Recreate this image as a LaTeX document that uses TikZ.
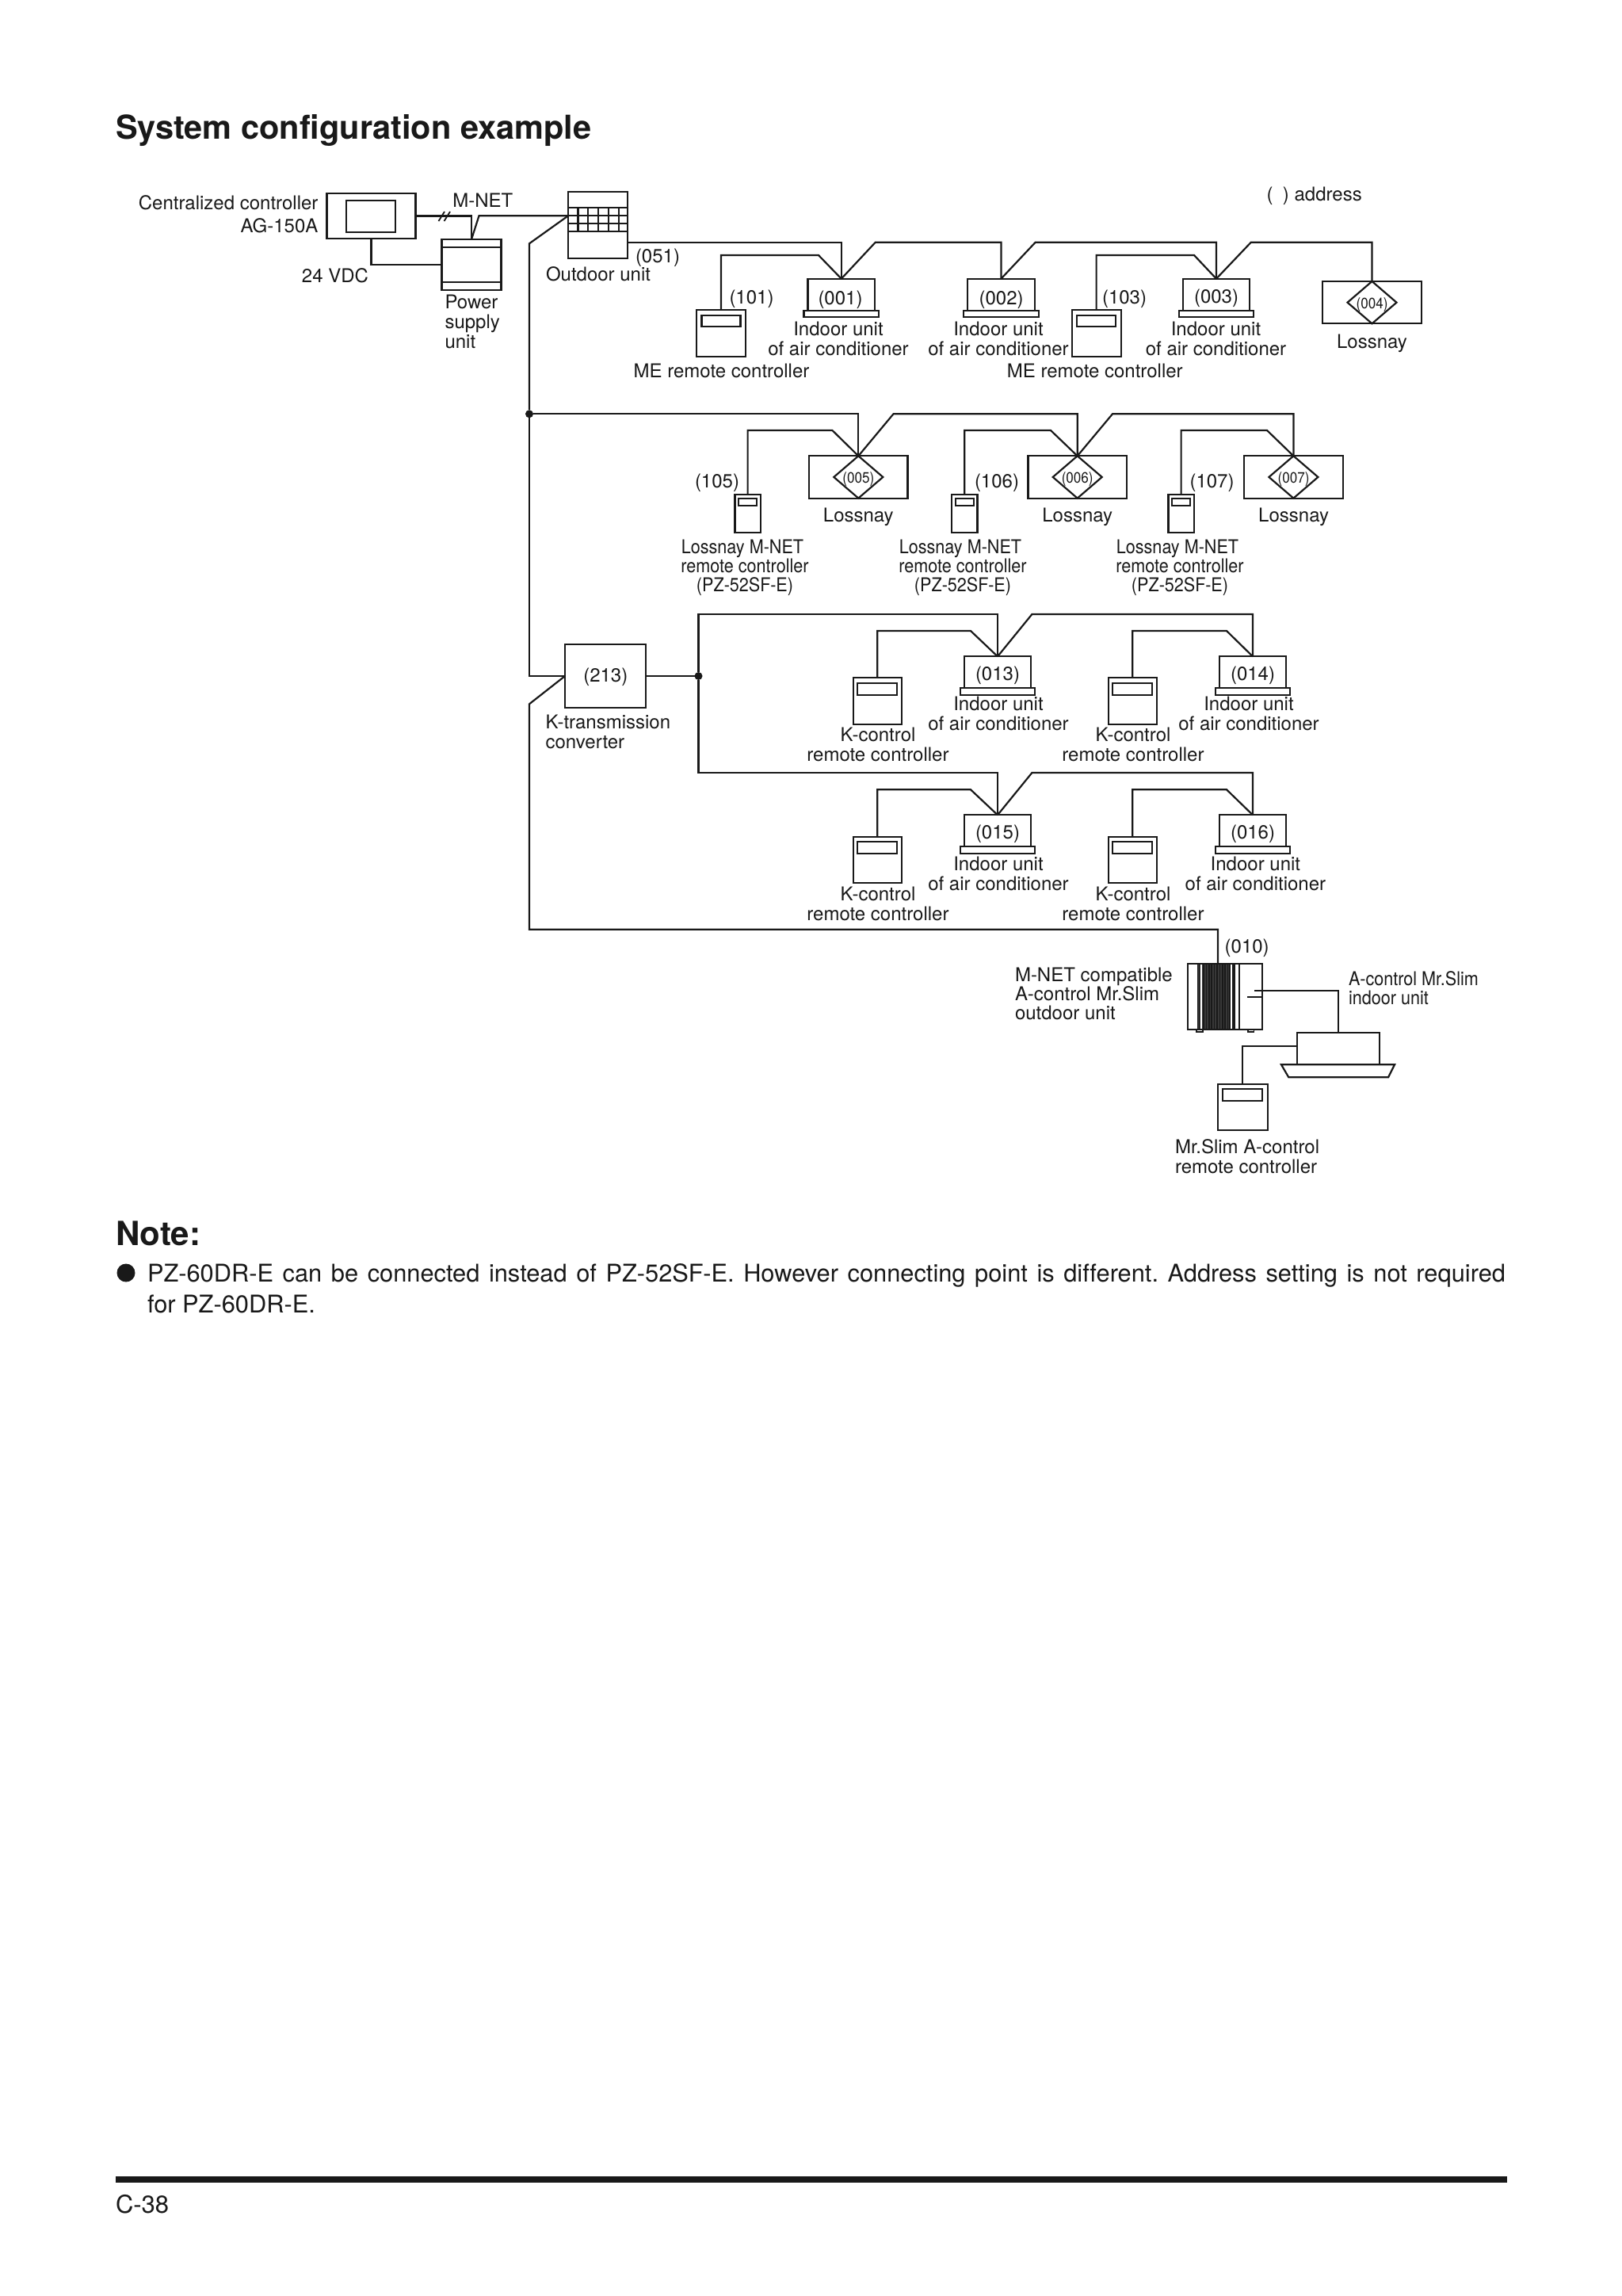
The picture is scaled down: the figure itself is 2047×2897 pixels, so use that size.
\documentclass[tikz,border=0pt]{standalone}
\usepackage{fontspec}
\setmainfont[Ligatures=NoCommon]{TeX Gyre Heros}
\newfontfamily\condfont[FakeStretch=0.90]{TeX Gyre Heros}
\newcommand{\fsA}{\fontsize{24}{25}\selectfont}
\newcommand{\fsB}{\fontsize{24}{24}\selectfont}
\newcommand{\cnA}{\condfont\fontsize{24}{24}\selectfont}
\newcommand{\cnS}{\condfont\fontsize{19}{20}\selectfont}
\definecolor{ink}{gray}{0.1}
\tikzset{
  ln/.style={line width=2.2pt,draw=ink,line join=miter},
  bx/.style={draw=ink,line width=2.2pt,rectangle,inner sep=0pt,outer sep=0pt},
  lbl/.style={inner sep=0pt,outer sep=0pt,text=ink,font=\fsA,anchor=north,align=center,yshift=11.5pt,
     execute at begin node={\rule{0pt}{20pt}}},
  lft/.style={anchor=north west,align=left},
  rgt/.style={anchor=north east,align=right},
  small/.style={font=\cnS,yshift=1.7pt},
  cond/.style={font=\cnA},
  head/.style={inner sep=0pt,outer sep=0pt,text=ink,anchor=base west,font=\bfseries\fontsize{41.5}{41.5}\selectfont},
  body/.style={inner sep=0pt,outer sep=0pt,text=ink,anchor=base west,font=\fontsize{30.8}{31}\selectfont},
  jdot/.style={circle,fill=ink,inner sep=0pt,minimum size=10pt,outer sep=0pt},
}
\newcommand{\txt}[5][]{\node[lbl,#1] (#2) at (#3,#4) {#5};}
% name, centre x, top y
\newcommand{\indoorunit}[3]{%
  \node[bx,minimum width=84.5pt,minimum height=40pt] (#1) at (#2,#3+20) {};
  \node[bx,minimum width=94.5pt,minimum height=8.3pt] (#1b) at (#2,#3+44.2) {};}
\newcommand{\lossnay}[3]{%
  \node[bx,minimum width=124.5pt,minimum height=53.3pt] (#1) at (#2,#3+26.65) {};
  \draw[ln] (#1.north) -- ++(31,26.65) -- (#1.south) -- ++(-31,-26.65) -- cycle;}
% name, centre x, top y, w, h, display w, display offset, display h
\newcommand{\remote}[8]{%
  \node[bx,minimum width=#4pt,minimum height=#5pt] (#1) at (#2,#3+#5/2) {};
  \node[bx,minimum width=#6pt,minimum height=#8pt] (#1d) at (#2,#3+#7+#8/2) {};}
\begin{document}
\begin{tikzpicture}[x=1pt,y=-1pt]
\useasboundingbox (0,0) rectangle (2047,2897);
\fill[white] (0,0) rectangle (2047,2897);

\node[head] (title) at (146,175.5) {System configuration example};

% ---- top left devices
\node[bx,minimum width=112pt,minimum height=57pt] (cc) at (468.5,272.5) {};
\node[bx,minimum width=62pt,minimum height=40pt] (ccs) at (468,272.7) {};
\node[bx,minimum width=75pt,minimum height=63.7pt] (psu) at (595,333.9) {};
\draw[ln] (557.5,312.3) -- (632.5,312.3) (557.5,355.7) -- (632.5,355.7);
\node[bx,minimum width=75pt,minimum height=83.7pt] (odu) at (754.5,283.9) {};
\draw[ln] (717,262) -- (792,262) (717,272.3) -- (792,272.3) (717,281.7) -- (792,281.7) (717,291.7) -- (792,291.7);
\foreach \gx in {729.5,742,755,768,780.6} \draw[ln] (\gx,262) -- (\gx,291.7);
\coordinate (oduM) at (717,272.3);
\coordinate (oduE) at (792,305.7);

\draw[ln] (cc.east) -| (psu.north);
\draw[ln] (psu.north) -- (604.5,272.3) -- (oduM);
\draw[ln] (cc.south) |- (psu.west);
\draw[line width=1.8pt,draw=ink] (553.5,279) -- (561,267) (560.5,279) -- (568,267);

% ---- bus
\node[jdot] (dotA) at (668,522.3) {};
\node[bx,minimum width=102pt,minimum height=79.4pt] (ktc) at (764,853) {};
\node[jdot] (dotB) at (881.5,853) {};
\coordinate (aslT) at (1537,1216);
\draw[ln] (oduM) -- (668,307.3) -- (dotA);
\draw[ln] (dotA) -- (668,853) -- (ktc.west);
\draw[ln] (ktc.west) -- (668,888.3) -- (668,1172.7) -| (aslT);
\draw[ln] (ktc.east) -- (dotB);

% ---- row 1
\indoorunit{uA}{1061.8}{351.7}
\indoorunit{uB}{1263.4}{351.7}
\indoorunit{uC}{1535}{351.7}
\lossnay{lA}{1731.5}{355}
\remote{rA}{910}{391}{62}{58.7}{49}{7}{14}
\remote{rC}{1383.6}{391}{62}{58.7}{49}{7}{14}
\draw[ln] (oduE) -| (uA.north);
\draw[ln] (uA.north) -- (1104.8,305.7) -| (uB.north);
\draw[ln] (uB.north) -- (1306.7,305.7) -| (uC.north);
\draw[ln] (uC.north) -- (1578.8,305.7) -| (lA.north);
\draw[ln] (rA.north) |- (1033,322) -- (uA.north);
\draw[ln] (rC.north) |- (1507,322) -- (uC.north);

% ---- row 2
\lossnay{lB}{1083.3}{575.3}
\lossnay{lC}{1359.7}{575.3}
\lossnay{lD}{1632.4}{575.3}
\remote{rE}{943.6}{624}{32.4}{48.3}{23}{4.7}{9.6}
\remote{rF}{1217.2}{624}{32.4}{48.3}{23}{4.7}{9.6}
\remote{rG}{1490.6}{624}{32.4}{48.3}{23}{4.7}{9.6}
\draw[ln] (dotA) -| (lB.north);
\draw[ln] (lB.north) -- (1127.5,522.3) -| (lC.north);
\draw[ln] (lC.north) -- (1404,522.3) -| (lD.north);
\draw[ln] (rE.north) |- (1050.4,543) -- (lB.north);
\draw[ln] (rF.north) |- (1326,543) -- (lC.north);
\draw[ln] (rG.north) |- (1599,543) -- (lD.north);

% ---- row 3
\indoorunit{uD}{1259}{828.3}
\indoorunit{uE}{1581}{828.3}
\remote{rH}{1107.2}{855}{61}{59.3}{50}{7}{15}
\remote{rI}{1429.2}{855}{61}{59.3}{50}{7}{15}
\draw[ln] (dotB) |- (1259,775) -- (uD.north);
\draw[ln] (uD.north) -- (1302.4,775) -| (uE.north);
\draw[ln] (rH.north) |- (1225,796) -- (uD.north);
\draw[ln] (rI.north) |- (1548,796) -- (uE.north);

% ---- row 4
\indoorunit{uF}{1259}{1028.3}
\indoorunit{uG}{1581}{1028.3}
\remote{rJ}{1107.2}{1055.7}{61}{58.6}{50}{6.6}{15}
\remote{rK}{1429.2}{1055.7}{61}{58.6}{50}{6.6}{15}
\draw[ln] (dotB) |- (1259,975) -- (uF.north);
\draw[ln] (uF.north) -- (1302.4,975) -| (uG.north);
\draw[ln] (rJ.north) |- (1225,996.3) -- (uF.north);
\draw[ln] (rK.north) |- (1548,996.3) -- (uG.north);

% ---- Mr.Slim outdoor unit
\fill[black!78] (1510.7,1216) rectangle (1559.3,1299);
\foreach \fx in {1511.5,1513.5,1519,1522.4,1525.8,1529.2,1532.6,1536,1539.4,1542.8,1546.2,1549.6,1551.8,1556,1558} \draw[line width=1.7pt,draw=ink] (\fx,1216) -- (\fx,1299);
\foreach \fx in {1516,1554} \draw[line width=1.2pt,draw=white] (\fx,1217) -- (\fx,1298);
\node[bx,minimum width=93.4pt,minimum height=83pt] (asl) at (1546,1257.5) {};
\draw[ln] (1563.7,1216) -- (1563.7,1299);
\draw[ln] (1574,1258) -- (1592.7,1258);
\coordinate (aslP) at (1583,1250);
\draw[line width=1.6pt,draw=ink] (1510,1299) rectangle (1518,1301.8) (1574.7,1299) rectangle (1582.3,1301.8);

% ---- Mr.Slim indoor unit + remote
\node[bx,minimum width=104pt,minimum height=40pt] (ain) at (1688.6,1323.3) {};
\draw[ln] (1617,1343.3) -- (1760,1343.3) -- (1752,1359.3) -- (1626.3,1359.3) -- cycle;
\remote{rL}{1568.3}{1367.7}{62.6}{58.6}{50}{6.6}{14.7}
\draw[ln] (aslP) -| (ain.north);
\draw[ln] (ain.west |- 0,1320) coordinate (ainW) -| (rL.north);

% ---- labels
\txt[rgt]{tCC}{401.4}{256}{Centralized controller}
\txt[rgt]{tAG}{401.4}{285}{AG-150A}
\txt[lft]{tMN}{571.3}{253.3}{M-NET}
\txt[rgt]{tV}{465}{348}{24 VDC}
\txt[lft]{tPS}{561.5}{383.7}{Power\\supply\\unit}
\txt{t051}{830}{323.3}{(051)}
\txt[lft]{tOU}{689}{346}{Outdoor unit}
\txt[lft]{tAD}{1598.5}{245}{(\hspace{12.5pt})\ address}
\txt{t101}{948.5}{375}{(101)}
\txt{t001}{1060.5}{376}{(001)}
\txt{t002}{1263.6}{376}{(002)}
\txt{t103}{1419}{375}{(103)}
\txt{t003}{1535}{374}{(003)}
\txt[small]{t004}{1731.5}{382.7}{(004)}
\txt{tUA}{1058}{417.2}{Indoor unit\\of air conditioner}
\txt{tUB}{1260}{417.2}{Indoor unit\\of air conditioner}
\txt{tUC}{1534.5}{417.2}{Indoor unit\\of air conditioner}
\txt{tLA}{1731.5}{430.7}{Lossnay}
\txt{tMA}{910.5}{468}{ME remote controller}
\txt{tMB}{1381.8}{468}{ME remote controller}

\txt{t105}{905}{606.7}{(105)}
\txt{t106}{1258}{606.7}{(106)}
\txt{t107}{1529.5}{606.7}{(107)}
\txt[small]{t005}{1083.3}{603}{(005)}
\txt[small]{t006}{1359.7}{603}{(006)}
\txt[small]{t007}{1632.6}{603}{(007)}
\txt{tLB}{1083.3}{650}{Lossnay}
\txt{tLC}{1359.7}{650}{Lossnay}
\txt{tLD}{1632.6}{650}{Lossnay}
\txt[cond]{tRE}{940}{692.5}{Lossnay M-NET\hspace*{6pt}\\remote controller\\(PZ-52SF-E)}
\txt[cond]{tRF}{1215}{692.5}{Lossnay M-NET\hspace*{6pt}\\remote controller\\(PZ-52SF-E)}
\txt[cond]{tRG}{1489}{692.5}{Lossnay M-NET\hspace*{6pt}\\remote controller\\(PZ-52SF-E)}

\txt{t213}{764.3}{851.7}{(213)}
\txt[lft]{tKT}{688.6}{913}{K-transmission\\converter}
\txt{t013}{1259}{850}{(013)}
\txt{t014}{1581}{850}{(014)}
\txt{tUD}{1260}{890.5}{Indoor unit\\of air conditioner}
\txt{tUE}{1576}{890.5}{Indoor unit\\of air conditioner}
\txt{tKH}{1108}{929.2}{K-control\\remote controller}
\txt{tKI}{1430}{929.2}{K-control\\remote controller}

\txt{t015}{1259}{1050}{(015)}
\txt{t016}{1581}{1050}{(016)}
\txt{tUF}{1260}{1092}{Indoor unit\\of air conditioner}
\txt{tUG}{1584.4}{1092}{Indoor unit\\of air conditioner}
\txt{tKJ}{1108}{1130.5}{K-control\\remote controller}
\txt{tKK}{1430}{1130.5}{K-control\\remote controller}

\txt{t010}{1573.7}{1194}{(010)}
\txt[lft,font=\fsB]{tAO}{1281}{1232.5}{M-NET compatible\\A-control Mr.Slim\\outdoor unit}
\txt[lft,cond]{tAI}{1702}{1237.5}{A-control Mr.Slim\\indoor unit}
\txt[lft,font=\fsA]{tAR}{1483}{1449.5}{Mr.Slim A-control\\remote controller}

% ---- note
\node[head,font=\bfseries\fontsize{42}{42}\selectfont] (note) at (146,1571) {Note:};
\node[circle,fill=ink,inner sep=0pt,outer sep=0pt,minimum size=23pt] (bullet) at (159,1606) {};
\node[body] (nA) at (186,1617.3) {\frenchspacing\makebox[1714pt][s]{PZ-60DR-E can be connected instead of PZ-52SF-E. However connecting point is different. Address setting is not required}};
\node[body] (nB) at (186,1656) {for PZ-60DR-E.};

% ---- footer
\fill[ink] (146,2746.3) rectangle (1902,2754);
\node[body,font=\fontsize{31}{31}\selectfont] (pg) at (146,2792.7) {C-38};
\end{tikzpicture}
\end{document}
